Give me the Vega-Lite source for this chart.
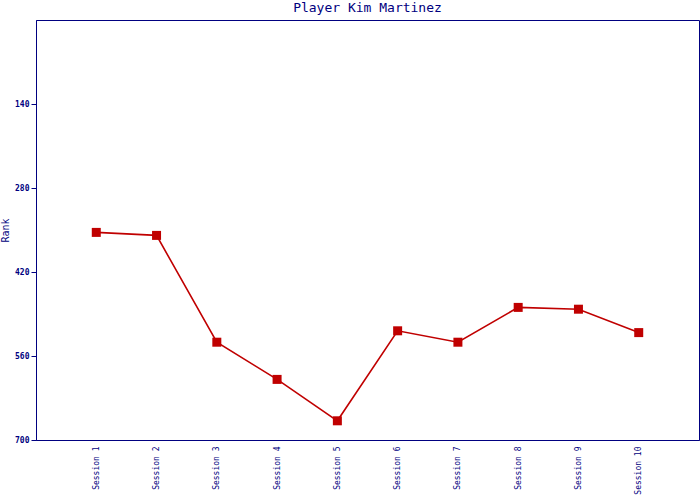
{
  "$schema": "https://vega.github.io/schema/vega-lite/v6.json",
  "width": 663,
  "height": 420,
  "autosize": {"type": "none"},
  "padding": {"left": 36, "top": 20, "right": 1, "bottom": 60},
  "background": "white",
  "title": {"text": "Player Kim Martinez", "font": "DejaVu Sans Mono", "fontSize": 13, "fontWeight": "normal", "color": "#000080", "offset": 5, "anchor": "middle"},
  "config": {
    "view": {"stroke": "#000080", "strokeWidth": 1},
    "axis": {"labelFont": "DejaVu Sans Mono", "titleFont": "DejaVu Sans Mono", "labelColor": "#000080", "titleColor": "#000080", "domainColor": "#000080", "tickColor": "#000080", "grid": false}
  },
  "data": {"values": [
    {"session": "Session 1", "rank": 354},
    {"session": "Session 2", "rank": 359},
    {"session": "Session 3", "rank": 537},
    {"session": "Session 4", "rank": 599},
    {"session": "Session 5", "rank": 668},
    {"session": "Session 6", "rank": 518},
    {"session": "Session 7", "rank": 537},
    {"session": "Session 8", "rank": 479},
    {"session": "Session 9", "rank": 482},
    {"session": "Session 10", "rank": 521}
  ]},
  "encoding": {
    "x": {"field": "session", "type": "ordinal", "sort": null, "scale": {"type": "point", "padding": 1},
      "axis": {"title": null, "labelAngle": -90, "labelAlign": "right", "labelBaseline": "middle", "labelFontSize": 8, "ticks": false, "labelPadding": 6, "domainWidth": 1}},
    "y": {"field": "rank", "type": "quantitative", "scale": {"domain": [0, 700], "reverse": true, "nice": false},
      "axis": {"title": "Rank", "values": [140, 280, 420, 560, 700], "labelFontSize": 8, "labelFontWeight": "bold", "titleFontSize": 10, "titleFontWeight": "normal", "tickSize": 5, "labelPadding": 2, "titlePadding": 4}}
  },
  "layer": [
    {"mark": {"type": "line", "color": "#C00000", "strokeWidth": 1.6}},
    {"mark": {"type": "point", "shape": "square", "filled": true, "color": "#C00000", "size": 81, "opacity": 1}}
  ]
}
